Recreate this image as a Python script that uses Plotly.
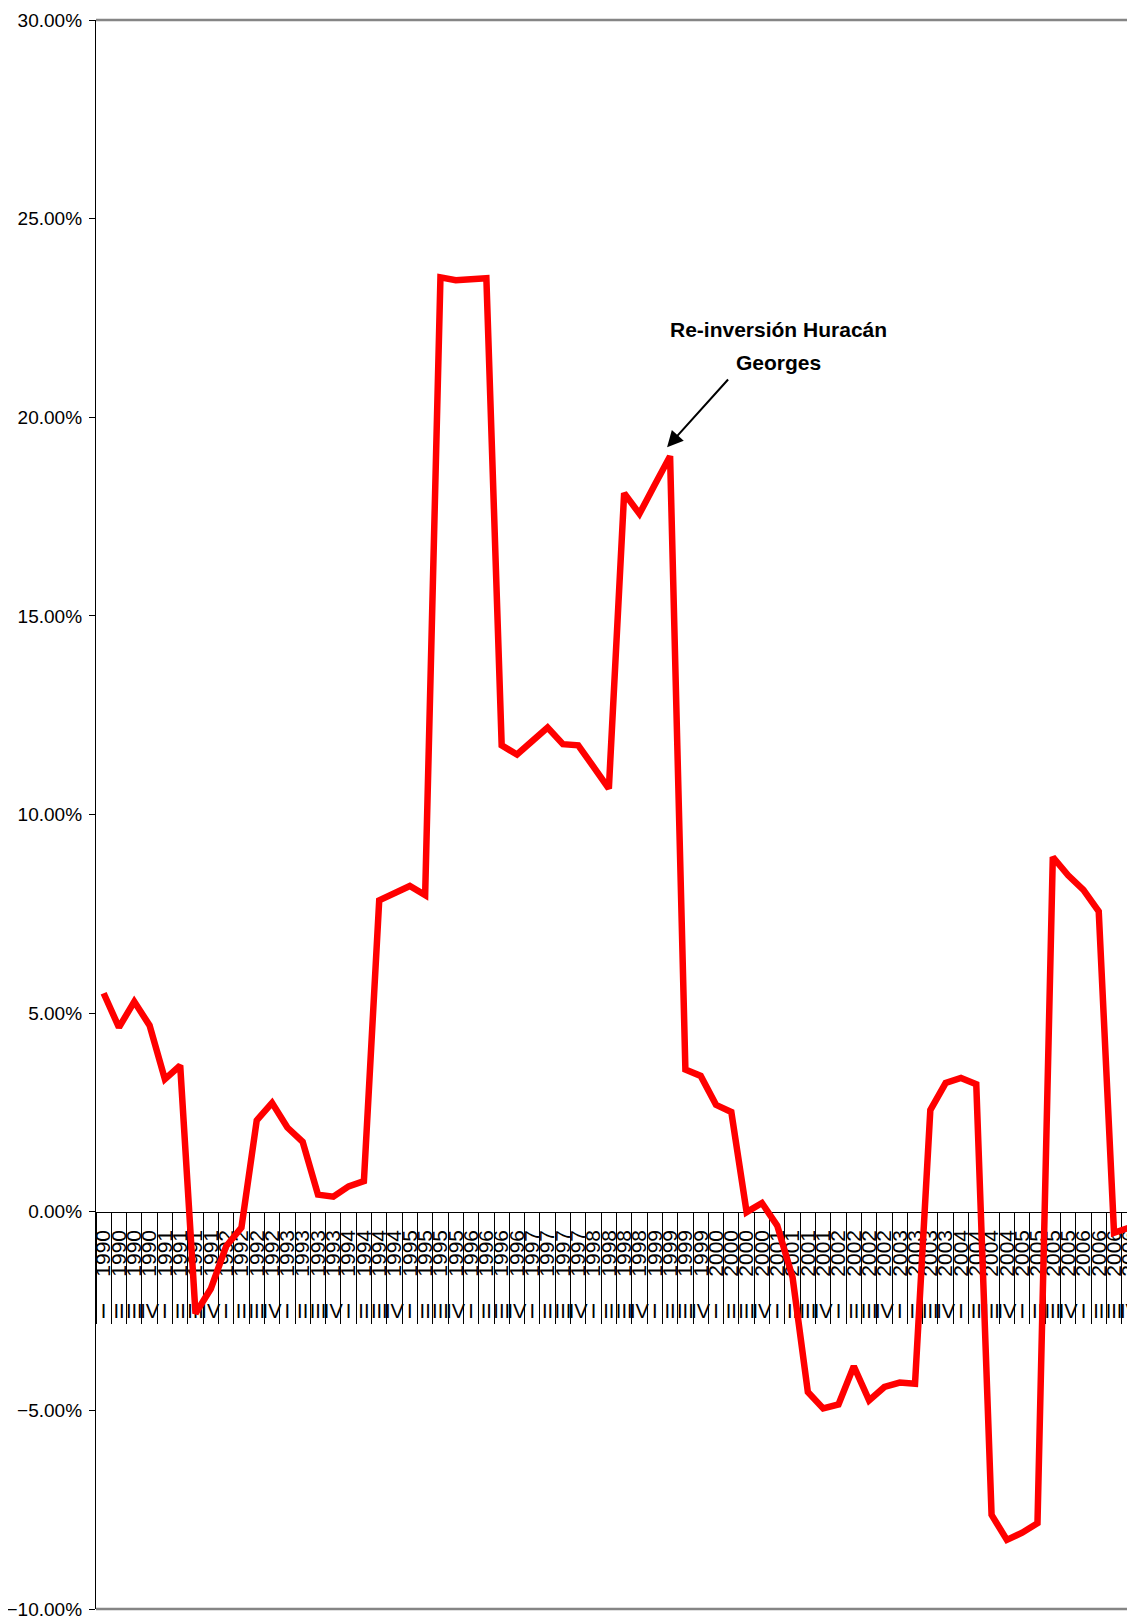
import plotly.graph_objects as go

years = [str(y) for y in range(1990, 2007) for _ in range(4)]
quarters = ["I", "II", "III", "IV"] * 17
values_pct = [
    5.50, 4.64, 5.29, 4.69,
    3.34, 3.68, -2.56, -1.94,
    -0.87, -0.40, 2.30, 2.74,
    2.12, 1.76, 0.43, 0.38,
    0.64, 0.77, 7.84, 8.02,
    8.20, 7.97, 23.52, 23.45,
    23.47, 23.50, 11.74, 11.51,
    11.85, 12.19, 11.77, 11.74,
    11.20, 10.65, 18.09, 17.57,
    18.30, 19.02, 3.58, 3.42,
    2.69, 2.51, -0.01, 0.22,
    -0.35, -1.65, -4.54, -4.95,
    -4.85, -3.89, -4.75, -4.41,
    -4.30, -4.33, 2.56, 3.24,
    3.37, 3.21, -7.63, -8.26,
    -8.08, -7.84, 8.93, 8.47,
    8.10, 7.56, -0.53, -0.40,
]
values = [v / 100 for v in values_pct]
idx = list(range(len(values)))
annot_lines = ["Re-inversión Huracán", "Georges"]
annot_point = 37

xr = [-0.5, 67.5]
fig = go.Figure()
fig.add_trace(go.Scatter(x=idx, y=values, mode="lines",
                         line=dict(color="#FF0000", width=6.5),
                         hoverinfo="skip", showlegend=False))

fig.update_layout(
    width=1135, height=1621,
    margin=dict(l=87.5, r=6.4, t=11.5, b=20, autoexpand=False),
    paper_bgcolor="white", plot_bgcolor="white",
    font=dict(family="Liberation Sans, Arial, sans-serif", color="black"),
    xaxis=dict(type="linear", range=xr, anchor="free", position=0.25,
               showline=True, linecolor="black", linewidth=1.3,
               ticks="outside", ticklen=111, tickcolor="black", tickwidth=1.3,
               tickmode="array", tickvals=[i - 0.5 for i in range(69)],
               showticklabels=False, showgrid=False, zeroline=False,
               layer="below traces", automargin=False),
    xaxis2=dict(type="linear", range=xr, overlaying="x", anchor="free", position=0.25,
                showline=False, ticks="", tickmode="array", tickvals=idx, ticktext=years,
                tickangle=-90, tickfont=dict(size=21), ticklabelstandoff=13,
                showgrid=False, zeroline=False, layer="below traces", automargin=False),
    xaxis3=dict(type="linear", range=xr, overlaying="x", anchor="free", position=0.1963,
                showline=False, ticks="", tickmode="array", tickvals=idx, ticktext=quarters,
                tickangle=0, tickfont=dict(size=20),
                showgrid=False, zeroline=False, layer="below traces", automargin=False),
    yaxis=dict(range=[-0.10, 0.30], tickmode="linear", tick0=-0.10, dtick=0.05,
               tickformat=".2%", showline=True, linecolor="black", linewidth=1.3,
               ticks="outside", ticklen=6, tickcolor="black", tickwidth=1.3,
               tickfont=dict(size=19), ticklabelstandoff=3,
               showgrid=False, zeroline=False, automargin=False),
    shapes=[
        dict(type="line", xref="paper", yref="paper", x0=0, x1=1, y0=1, y1=1,
             line=dict(color="#858585", width=2.5)),
        dict(type="line", xref="paper", yref="paper", x0=0, x1=1, y0=0, y1=0,
             line=dict(color="#858585", width=2.5)),
    ],
)

# dummy traces so that overlaying axes render
fig.add_trace(go.Scatter(x=[None], y=[None], xaxis="x2", yaxis="y", showlegend=False))
fig.add_trace(go.Scatter(x=[None], y=[None], xaxis="x3", yaxis="y", showlegend=False))

fig.add_annotation(x=annot_point, y=values[annot_point], xref="x", yref="y",
                   text=" ", showarrow=True, ax=64, ay=-71,
                   xshift=-3, yshift=9,
                   arrowhead=2, arrowsize=1.6, arrowwidth=2, arrowcolor="black",
                   standoff=0)
bold = dict(family="Liberation Sans, Arial", size=21, color="black", weight="bold")
fig.add_annotation(x=44.1, y=0.2221, xref="x", yref="y", text=annot_lines[0],
                   showarrow=False, font=bold)
fig.add_annotation(x=44.1, y=0.2138, xref="x", yref="y", text=annot_lines[1],
                   showarrow=False, font=bold)

fig.write_html("out.html")
